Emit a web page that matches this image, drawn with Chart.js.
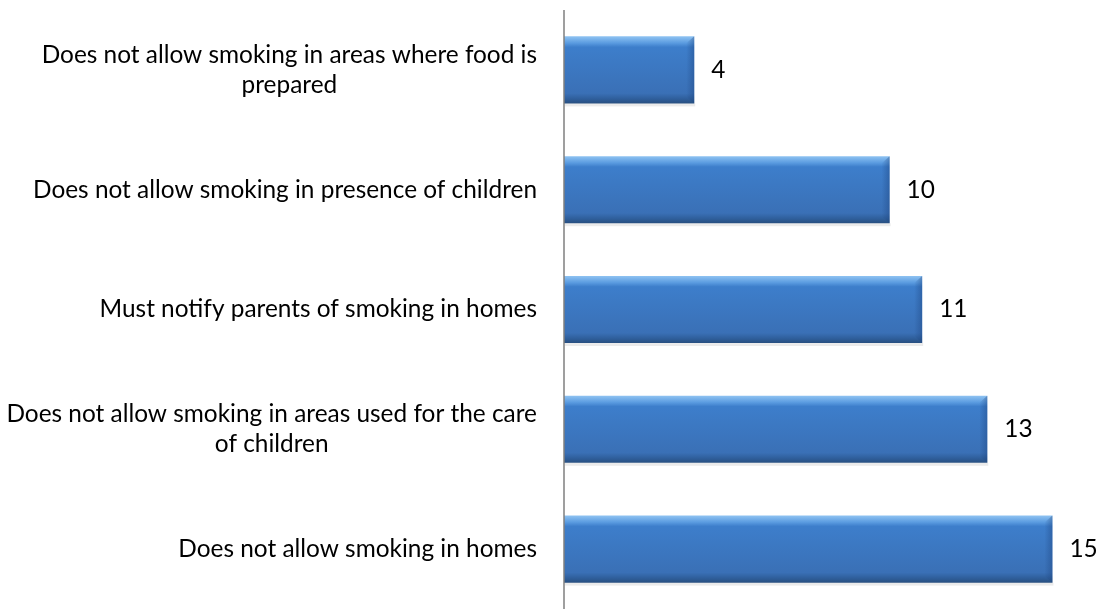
<!DOCTYPE html>
<html>
<head>
<meta charset="utf-8">
<script src="https://cdn.jsdelivr.net/npm/chart.js@4"></script>
<style>
html,body{margin:0;padding:0;background:#fff;}
#wrap{width:1098px;height:609px;position:relative;}
</style>
</head>
<body>
<div id="wrap"><canvas id="c" width="1098" height="609"></canvas></div>
<script>
const LABELS=[
  ['Does not allow smoking in areas where food is','prepared'],
  ['Does not allow smoking in presence of children'],
  ['Must notify parents of smoking in homes'],
  ['Does not allow smoking in areas used for the care','of children'],
  ['Does not allow smoking in homes']
];
const VALUES=[4,10,11,13,15];

const FONT='24.4px Lato, "Liberation Sans", sans-serif';

// bevelled blue bars, gradient per bar
function barFill(ctx){
  const ch=ctx.chart, ys=ch.scales.y;
  if(!ys||ctx.dataIndex==null)return '#3b7bc8';
  const c=ys.getPixelForValue(ctx.dataIndex);
  const h=ys.height/LABELS.length*0.56/2;
  if(!isFinite(c)||!isFinite(h)||h<=0)return '#3b7bc8';
  const g=ch.ctx.createLinearGradient(0,c-h,0,c+h);
  g.addColorStop(0,'#8fc3f2');
  g.addColorStop(0.1,'#5a9be0');
  g.addColorStop(0.16,'#3d7ecb');
  g.addColorStop(0.85,'#3a70b6');
  g.addColorStop(0.93,'#2f5f9c');
  g.addColorStop(1,'#284f80');
  return g;
}

const labelPlugin={
  id:'sideLabels',
  afterDraw(chart){
    const ctx=chart.ctx, ys=chart.scales.y, xs=chart.scales.x;
    ctx.save();
    ctx.font=FONT;ctx.fillStyle='#000';ctx.textBaseline='middle';ctx.textAlign='center';
    const right=537, lh=30;
    LABELS.forEach((lines,i)=>{
      const yc=ys.getPixelForValue(i);
      const w=Math.max(...lines.map(l=>ctx.measureText(l).width));
      const cx=right-w/2;
      lines.forEach((l,j)=>ctx.fillText(l,cx,yc+(j-(lines.length-1)/2)*lh));
    });
    ctx.textAlign='left';
    VALUES.forEach((v,i)=>{
      ctx.fillText(String(v),xs.getPixelForValue(v)+17,ys.getPixelForValue(i));
    });
    // right-hand bevel shade on each bar
    const meta=chart.getDatasetMeta(0);
    meta.data.forEach(b=>{
      const h=b.height/2;
      const g=ctx.createLinearGradient(b.x-8,0,b.x,0);
      g.addColorStop(0,'rgba(30,70,130,0)');g.addColorStop(1,'rgba(30,70,130,0.45)');
      ctx.fillStyle=g;
      ctx.beginPath();ctx.moveTo(b.x-8,b.y-h+7);ctx.lineTo(b.x,b.y-h);ctx.lineTo(b.x,b.y+h);ctx.lineTo(b.x-8,b.y+h-7);ctx.closePath();ctx.fill();
      // faint shadow under the bar
      ctx.fillStyle='rgba(0,0,0,0.08)';
      ctx.fillRect(b.base+1,b.y+h,b.x-b.base,3);
    });
    // axis line
    ctx.strokeStyle='#7f7f7f';ctx.lineWidth=1.5;
    ctx.beginPath();ctx.moveTo(xs.left,10);ctx.lineTo(xs.left,609);ctx.stroke();
    ctx.restore();
  }
};

new Chart(document.getElementById('c'),{
  type:'bar',
  data:{labels:LABELS.map(l=>l.join(' ')),datasets:[{data:VALUES,backgroundColor:barFill,borderWidth:0,categoryPercentage:1,barPercentage:0.56}]},
  options:{
    indexAxis:'y',responsive:false,animation:false,
    layout:{padding:{left:564,right:0,top:10,bottom:0}},
    plugins:{legend:{display:false},tooltip:{enabled:false}},
    scales:{
      x:{display:false,min:0,max:16.4,grid:{display:false}},
      y:{display:false,grid:{display:false}}
    }
  },
  plugins:[labelPlugin]
});
</script>
</body>
</html>
